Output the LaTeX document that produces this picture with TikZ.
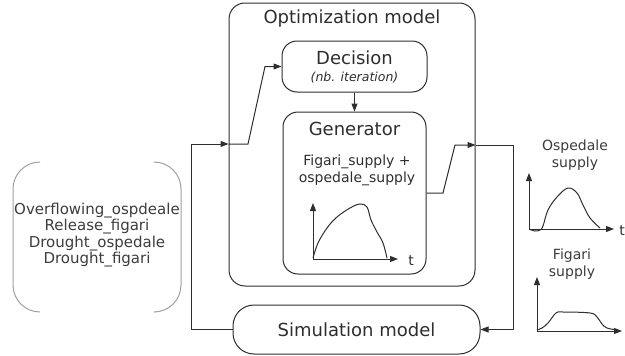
\documentclass[tikz,border=0pt]{standalone}
\usepackage{fontspec}
\setmainfont{DejaVu Sans}
\usetikzlibrary{arrows.meta}
\definecolor{ink}{HTML}{2E2E2E}
\definecolor{soft}{HTML}{A0A0A0}
\definecolor{softtext}{HTML}{3C3C3C}
\begin{document}
\begin{tikzpicture}[x=1pt,y=-1pt,
  line width=1pt, draw=ink, text=ink,
  arr/.style={-{Triangle[length=8pt,width=6pt]}},
  box/.style={draw, rounded corners=#1, inner sep=0pt},
  box/.default=15pt,
  lbl/.style={inner sep=0pt, align=center}]
\useasboundingbox (0,0) rectangle (625,356);
% boxes
\node[box=16pt, minimum width=246pt, minimum height=283pt] (opt) at (352,144.5) {};
\node[lbl, font=\fontsize{18}{20}\selectfont] (title) at (352,19) {Optimization model};
\node[box, minimum width=145pt, minimum height=51pt] (dec) at (354.5,66.5) {};
\node[lbl, font=\fontsize{18}{20}\selectfont] (dect) at (354.5,58) {Decision};
\node[lbl, font=\fontsize{12.5}{14}\selectfont\itshape] (deci) at (354.5,78) {(nb. iteration)};
\node[box, minimum width=143pt, minimum height=162pt] (gen) at (354.5,193) {};
\node[lbl, font=\fontsize{18}{20}\selectfont] (gent) at (354.5,129) {Generator};
\node[lbl, font=\fontsize{14}{17}\selectfont] (gens) at (357,170.5) {Figari\_supply +\\ospedale\_supply};
\node[box=21pt, minimum width=247pt, minimum height=49pt] (sim) at (356.5,329.5) {};
\node[lbl, font=\fontsize{18}{20}\selectfont] (simt) at (356.5,329.5) {Simulation model};
% bracket
\draw[soft, rounded corners=27pt] (40,162) -- (13,162) -- (13,312) -- (40,312);
\draw[soft, rounded corners=27pt] (155,162) -- (181,162) -- (181,312) -- (155,312);
\node[lbl, text=softtext, font=\fontsize{15}{16.5}\selectfont] (br) at (97,235) {Overflowing\_ospdeale\\Release\_figari\\Drought\_ospedale\\Drought\_figari};
% connectors
\draw[arr] (dec.south) -- (gen.north);
\coordinate (g1) at (443,193);
\coordinate (g2) at (455,145);
\coordinate (g3) at (513,145);
\coordinate (g4) at (513,329.5);
\draw[arr] (gen.east) -- (g1) -- (g2) -- (opt.east |- g2);
\draw[arr] (opt.east |- g2) -- (g3) -- (g4) -- (sim.east);
\coordinate (s1) at (191,329.5);
\coordinate (s2) at (191,144);
\coordinate (s3) at (248,144);
\coordinate (s4) at (265,66.5);
\draw[arr] (sim.west) -- (s1) -- (s2) -- (opt.west |- s2);
\draw[arr] (opt.west |- s2) -- (s3) -- (s4) -- (dec.west);
% generator graph
\coordinate (o1) at (313,259);
\draw[arr] (o1) -- (313,203);
\draw[arr] (o1) -- (398,259);
\node[lbl, font=\fontsize{14}{16}\selectfont] (t1) at (411,261) {t};
\draw plot[smooth, tension=0.6] coordinates {(313,258) (318,243) (327,228) (337,217) (350,208) (360,204) (367,207) (371,220) (377,232) (383,243) (387,258)};
% ospedale graph
\node[lbl, text=softtext, font=\fontsize{14}{16.5}\selectfont] (ost) at (575,155) {Ospedale\\supply};
\coordinate (o2) at (529,229);
\draw[arr] (o2) -- (529,173);
\draw[arr] (o2) -- (614,229);
\node[lbl, font=\fontsize{14}{16}\selectfont] (t2) at (622,231) {t};
\draw plot[smooth, tension=0.6] coordinates {(529,229) (535,231) (540,230) (543,226) (548,210) (557,197) (568,188) (577,193) (583,205) (590,218) (600,228)};
% figari graph
\node[lbl, text=softtext, font=\fontsize{14}{17}\selectfont] (fst) at (572,264) {Figari\\supply};
\coordinate (o3) at (537,331);
\draw[arr] (o3) -- (537,277);
\draw[arr] (o3) -- (622,331);
\draw plot[smooth, tension=0.6] coordinates {(537,330) (542,328) (548,323) (556,313) (563,312) (590,313) (597,317) (602,324) (607,328) (617,330)};
\end{tikzpicture}
\end{document}
